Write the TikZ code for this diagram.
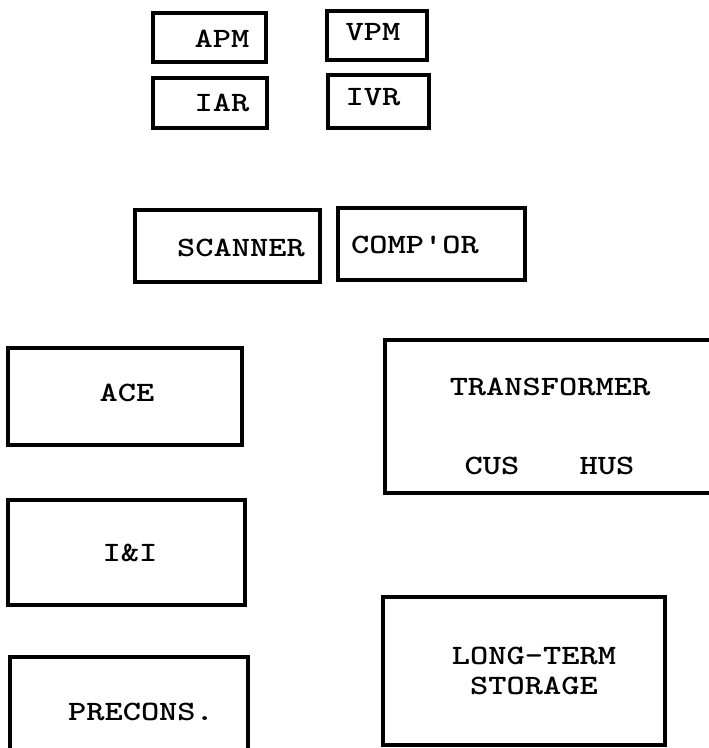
\documentclass[tikz,border=0pt]{standalone}
\usepackage{fontspec}
\newcommand\wide[1]{\scalebox{1.24}[1]{#1}}
\begin{document}
\begin{tikzpicture}[x=1bp,y=-1bp,
  box/.style={draw=black, line width=4.5bp, inner sep=0pt, fill=none},
  lbl/.style={inner sep=0pt, font=\ttfamily\bfseries\fontsize{28bp}{30bp}\selectfont, text=black}]
\useasboundingbox (0,0) rectangle (709,748);
\clip (0,0) rectangle (709,748);
% boxes
\node[box, minimum width=113bp, minimum height=49bp] (apm) at (209.5,37.5) {};
\node[box, minimum width=114bp, minimum height=50bp] (iar) at (210,103) {};
\node[box, minimum width=100bp, minimum height=49bp] (vpm) at (377,35.5) {};
\node[box, minimum width=101bp, minimum height=53bp] (ivr) at (378.5,101.5) {};
\node[box, minimum width=185bp, minimum height=72bp] (scan) at (227.5,246) {};
\node[box, minimum width=187bp, minimum height=72bp] (comp) at (431.5,244) {};
\node[box, minimum width=234bp, minimum height=97bp] (ace) at (125,396.5) {};
\node[box, minimum width=237bp, minimum height=105bp] (ii) at (126.5,552.5) {};
\node[box, minimum width=238bp, minimum height=95bp] (precons) at (129,704.5) {};
\node[box, minimum width=330bp, minimum height=153bp] (trans) at (550,416.5) {};
\node[box, minimum width=282bp, minimum height=148bp] (lts) at (524,671) {};
% texts
\node[lbl] (tapm) at (222,39) {\wide{APM}};
\node[lbl] (tiar) at (222,103) {\wide{IAR}};
\node[lbl] (tvpm) at (373,32) {\wide{VPM}};
\node[lbl] (tivr) at (373,97) {\wide{IVR}};
\node[lbl] (tscan) at (241,248) {\wide{SCANNER}};
\node[lbl] (tcomp) at (415,245) {\wide{COMP'OR}};
\node[lbl] (tace) at (127,393) {\wide{ACE}};
\node[lbl] (tii) at (130,553) {\wide{I\&I}};
\node[lbl] (tprecons) at (141,712) {\wide{PRECONS.}};
\node[lbl] (ttrans) at (550,387) {\wide{TRANSFORMER}};
\node[lbl] (tcus) at (492,466) {\wide{CUS}};
\node[lbl] (thus) at (607,466) {\wide{HUS}};
\node[lbl] (tlts1) at (534,656) {\wide{LONG-TERM}};
\node[lbl] (tlts2) at (534,686) {\wide{STORAGE}};
\end{tikzpicture}
\end{document}
